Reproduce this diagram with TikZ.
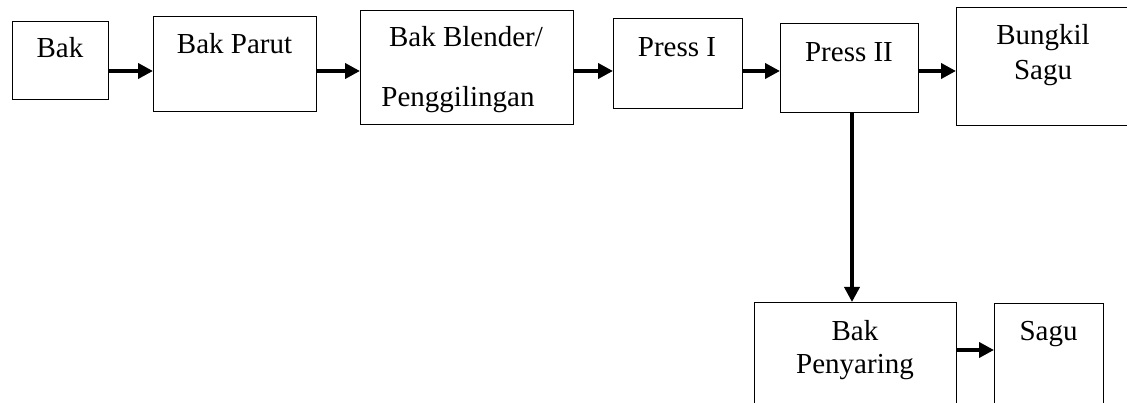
\documentclass[tikz,border=0pt]{standalone}
\usepackage{fontspec}
\setmainfont{Liberation Serif}
\usetikzlibrary{arrows.meta}
\begin{document}
\begin{tikzpicture}[x=1pt,y=-1pt,
  box/.style={draw,line width=1.3pt,rectangle,anchor=north west,inner sep=0pt},
  lbl/.style={anchor=base,inner sep=0pt,font=\fontsize{29}{33}\selectfont},
  arr/.style={line width=4pt,-{Triangle[length=15pt,width=15pt]}}]
\useasboundingbox (0,0) rectangle (1127,403);
\clip (0,0) rectangle (1127,403);
\node[box,minimum width=96pt,minimum height=78pt] (bak) at (12,21) {};
\node[box,minimum width=163pt,minimum height=95pt] (parut) at (153,16) {};
\node[box,minimum width=213pt,minimum height=114pt] (blender) at (360,10) {};
\node[box,minimum width=129pt,minimum height=90pt] (press1) at (613,18) {};
\node[box,minimum width=138pt,minimum height=89pt] (press2) at (780,23) {};
\node[box,minimum width=174pt,minimum height=118pt] (bungkil) at (956,7) {};
\node[box,minimum width=202pt,minimum height=130pt] (penyaring) at (754,302) {};
\node[box,minimum width=109pt,minimum height=130pt] (sagu) at (994,303) {};
\node[lbl] (t1) at (60,58) {Bak};
\node[lbl] (t2) at (234.5,54) {Bak Parut};
\node[lbl] (t3) at (466,47) {Bak Blender/};
\node[lbl] (t4) at (458,107) {Penggilingan};
\node[lbl] (t5) at (677,57) {Press I};
\node[lbl] (t6) at (849,62) {Press II};
\node[lbl] (t7) at (1043,45) {Bungkil};
\node[lbl] (t8) at (1043,80) {Sagu};
\node[lbl] (t9) at (855,340) {Bak};
\node[lbl] (t10) at (855,373) {Penyaring};
\node[lbl] (t11) at (1048.5,340) {Sagu};
\coordinate (r) at (0,71);
\coordinate (v) at (852,0);
\coordinate (s) at (0,350);
\draw[arr] (bak.east |- r) -- (parut.west |- r);
\draw[arr] (parut.east |- r) -- (blender.west |- r);
\draw[arr] (blender.east |- r) -- (press1.west |- r);
\draw[arr] (press1.east |- r) -- (press2.west |- r);
\draw[arr] (press2.east |- r) -- (bungkil.west |- r);
\draw[arr,line width=3.5pt] (press2.south -| v) -- (penyaring.north -| v);
\draw[arr] (penyaring.east |- s) -- (sagu.west |- s);
\end{tikzpicture}
\end{document}
